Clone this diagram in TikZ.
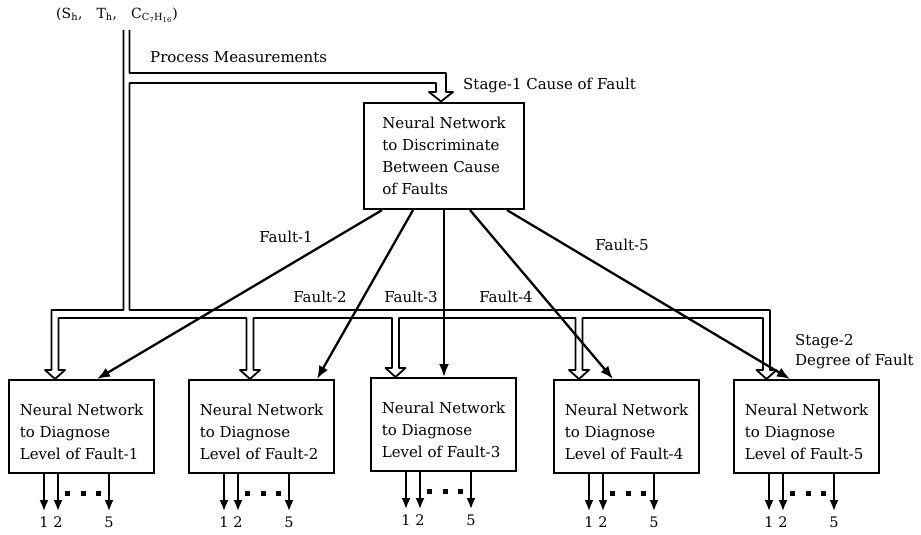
\documentclass[tikz,border=0pt]{standalone}
\usepackage{fontspec}
\setmainfont{DejaVu Serif}
\usetikzlibrary{arrows.meta,calc}
\tikzset{
  txt/.style={inner sep=0pt, font=\fontsize{15}{21}\selectfont},
  lbox/.style={draw, line width=2.1pt, align=left, inner sep=0pt,
    font=\fontsize{15}{22}\selectfont, minimum width=145, minimum height=93, anchor=north west},
  pipe/.style={line width=1.8pt, line join=round},
  fa/.style={line width=2.3pt, -{Latex[length=13pt,width=10pt]}},
  oa/.style={line width=2pt, -{Latex[length=11pt,width=9pt]}},
  dotm/.style={fill, inner sep=0pt, minimum size=5pt},
  num/.style={inner sep=0pt, font=\fontsize{14.5}{16}\selectfont}
}
\newcommand{\firststrut}{\rule{0pt}{23pt}}
\begin{document}
\begin{tikzpicture}[x=1pt,y=-1pt]
\useasboundingbox (0,0) rectangle (921,535);
% boxes
\node[lbox, minimum width=160, minimum height=106] (top) at (363,102)
  {Neural Network\\to Discriminate\\Between Cause\\of Faults};
\node[lbox] (b1) at (8,379) {\firststrut Neural Network\\to Diagnose\\Level of Fault-1};
\node[lbox] (b2) at (188,379) {\firststrut Neural Network\\to Diagnose\\Level of Fault-2};
\node[lbox] (b3) at (370,377) {\firststrut Neural Network\\to Diagnose\\Level of Fault-3};
\node[lbox] (b4) at (553,379) {\firststrut Neural Network\\to Diagnose\\Level of Fault-4};
\node[lbox] (b5) at (733,379) {\firststrut Neural Network\\to Diagnose\\Level of Fault-5};
% texts
\node[txt, anchor=west, font=\fontsize{14}{16}\selectfont] (inp) at (56,15)
  {(S\textsubscript{h},\quad T\textsubscript{h},\quad C\textsubscript{C\textsubscript{7}H\textsubscript{16}})};
\node[txt, anchor=west] (pm) at (150,57) {Process Measurements};
\node[txt, anchor=west] (s1) at (463,85) {Stage-1 Cause of Fault};
\node[txt, anchor=west, align=left, font=\fontsize{15}{20}\selectfont] (s2) at (795,352) {Stage-2\\Degree of Fault};
\node[txt] (f1) at (286,237) {Fault-1};
\node[txt] (f2) at (320,297) {Fault-2};
\node[txt] (f3) at (411,297) {Fault-3};
\node[txt] (f4) at (506,297) {Fault-4};
\node[txt] (f5) at (622,245) {Fault-5};
% pipe system (double-line conduit with hollow heads)
\draw[pipe] (129.5,30) -- (129.5,73) -- (446,73) -- (446,92) -- (453,92) -- (441,101.5)
  -- (429,92) -- (436,92) -- (436,83) -- (129.5,83) -- (129.5,310) -- (770,310)
  -- (770,370) -- (776.5,370) -- (766.5,379) -- (756.5,370) -- (763,370) -- (763,318)
  -- (582.5,318) -- (582.5,370) -- (589,370) -- (579,379) -- (569,370) -- (575.5,370) -- (575.5,318)
  -- (399,318) -- (399,368) -- (405.5,368) -- (395.5,377) -- (385.5,368) -- (392,368) -- (392,318)
  -- (253.5,318) -- (253.5,370) -- (260,370) -- (250,379) -- (240,370) -- (246.5,370) -- (246.5,318)
  -- (58.5,318) -- (58.5,370) -- (65,370) -- (55,379) -- (45,370) -- (51.5,370) -- (51.5,310)
  -- (123.5,310) -- (123.5,30);
% fault arrows
\draw[fa] ($(top.south west)+(19,0)$) -- ($(b1.north west)+(89,0)$);
\draw[fa] ($(top.south west)+(50,0)$) -- ($(b2.north west)+(129,0)$);
\draw[fa] ($(top.south west)+(81,0)$) -- ($(b3.north west)+(74,0)$);
\draw[fa] ($(top.south west)+(107,0)$) -- ($(b4.north west)+(60,0)$);
\draw[fa] ($(top.south west)+(144,0)$) -- ($(b5.north west)+(57,0)$);
% outputs
\foreach \b in {b1,b2,b3,b4,b5}{
  \coordinate (\b o1) at ($(\b.south west)+(36,0)$);
  \coordinate (\b o2) at ($(\b.south west)+(50,0)$);
  \coordinate (\b o5) at ($(\b.south west)+(101,0)$);
  \draw[oa] (\b o1) -- ++(0,37) node[num, below=5pt] {1};
  \draw[oa] (\b o2) -- ++(0,37) node[num, below=5pt] {2};
  \draw[oa] (\b o5) -- ++(0,37) node[num, below=5pt] {5};
  \node[dotm] at ($(\b.south west)+(59,19)$) {};
  \node[dotm] at ($(\b.south west)+(75,19)$) {};
  \node[dotm] at ($(\b.south west)+(90,19)$) {};
}
\end{tikzpicture}
\end{document}
